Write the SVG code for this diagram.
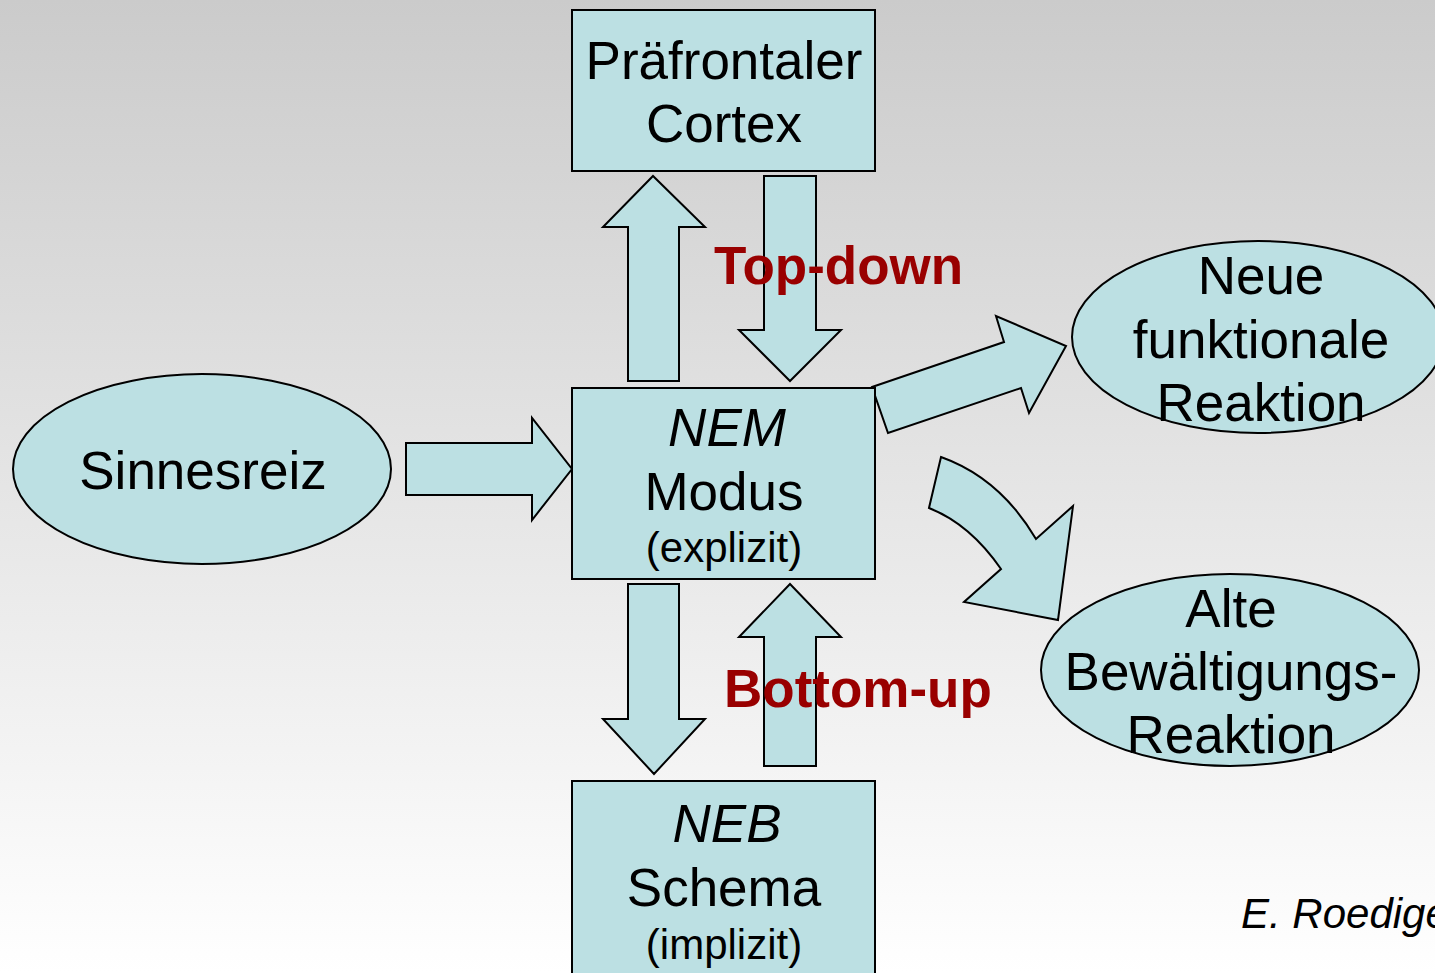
<svg xmlns="http://www.w3.org/2000/svg" width="1435" height="973" viewBox="0 0 1435 973">
<defs>
<linearGradient id="bg" x1="0" y1="0" x2="0" y2="1">
<stop offset="0" stop-color="#cbcbcb"/>
<stop offset="1" stop-color="#ffffff"/>
</linearGradient>
<style>
.shape{fill:#bce0e3;stroke:#000;stroke-width:2;stroke-linejoin:miter}
.t{font-family:"Liberation Sans",Arial,sans-serif;font-size:53px;fill:#000;text-anchor:middle}
.s{font-size:42px}
.i{font-style:italic}
.lbl{font-family:"Liberation Sans",Arial,sans-serif;font-size:53px;font-weight:bold;fill:#990000}
</style>
</defs>
<rect width="1435" height="973" fill="url(#bg)"/>
<g id="connectors">
<polygon class="shape" points="628,381 628,227 603,227 653,176 705,227 679,227 679,381"/>
<polygon class="shape" points="764,176 816,176 816,330 841,330 790,381 739,330 764,330"/>
<polygon class="shape" points="628,584 679,584 679,719 705,719 654,774 603,719 628,719"/>
<polygon class="shape" points="764,766 764,637 739,637 790,584 841,637 816,637 816,766"/>
<polygon class="shape" points="406,443 532,443 532,418 572,469 532,520 532,495 406,495"/>
<polygon class="shape" points="872,387 1004,342 996,316 1066,346 1029,413 1021,388 888,433"/>
<path class="shape" d="M941,457 Q1000,478 1036,539 L1073,506 L1058,620 L964,602 L1001,569 Q970,524 929,508 Z"/>
</g>
<g id="prefrontal">
<rect class="shape" x="572" y="10" width="303" height="161"/>
<text class="t" x="724" y="79">Präfrontaler</text>
<text class="t" x="724" y="142">Cortex</text>
</g>
<g id="nem">
<rect class="shape" x="572" y="388" width="303" height="191"/>
<text class="t i" x="727" y="446">NEM</text>
<text class="t" x="724" y="510">Modus</text>
<text class="t s" x="724" y="562">(explizit)</text>
</g>
<g id="neb">
<rect class="shape" x="572" y="781" width="303" height="200"/>
<text class="t i" x="727" y="842">NEB</text>
<text class="t" x="724" y="906">Schema</text>
<text class="t s" x="724" y="959">(implizit)</text>
</g>
<g id="sinnesreiz">
<ellipse class="shape" cx="202" cy="469" rx="189" ry="95"/>
<text class="t" x="203" y="489">Sinnesreiz</text>
</g>
<g id="neue">
<ellipse class="shape" cx="1258" cy="337" rx="186" ry="96"/>
<text class="t" x="1261" y="294">Neue</text>
<text class="t" x="1261" y="358">funktionale</text>
<text class="t" x="1261" y="421">Reaktion</text>
</g>
<g id="alte">
<ellipse class="shape" cx="1230" cy="670" rx="189" ry="96"/>
<text class="t" x="1231" y="627">Alte</text>
<text class="t" x="1231" y="690">Bewältigungs-</text>
<text class="t" x="1231" y="753">Reaktion</text>
</g>
<g id="labels">
<text class="lbl" x="714" y="284">Top-down</text>
<text class="lbl" x="724" y="707">Bottom-up</text>
<text x="1241" y="928" font-family="Liberation Sans, Arial, sans-serif" font-size="42" font-style="italic" fill="#000">E. Roediger</text>
</g>
</svg>
